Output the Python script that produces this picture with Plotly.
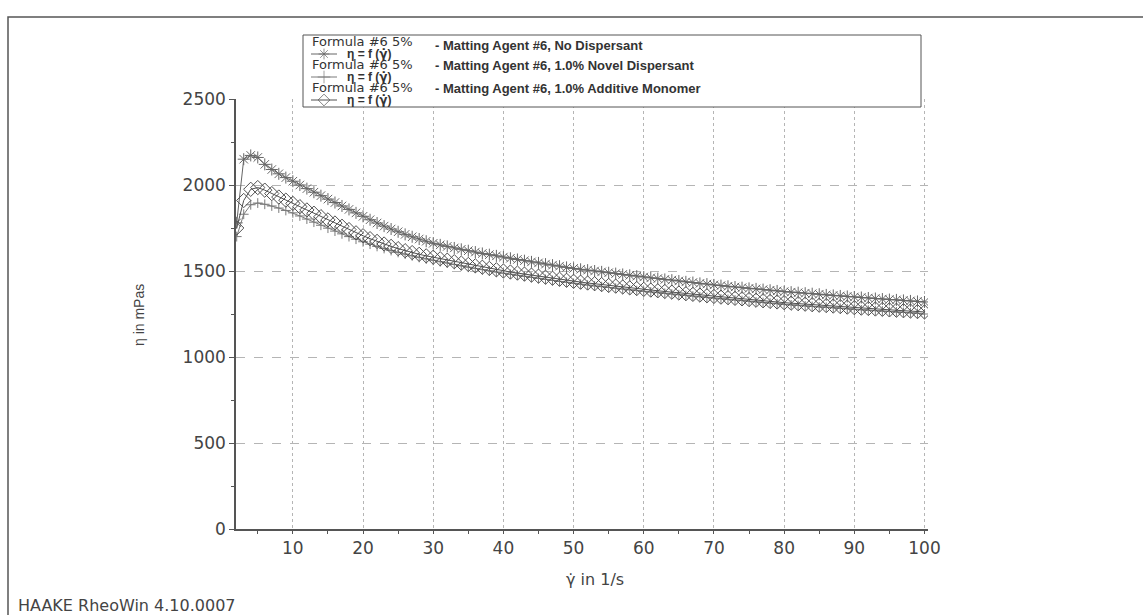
import plotly.graph_objects as go

W, H = 1143, 615

shear_rate = list(range(2, 101))

visc_no_dispersant = [
    1780, 2150, 2172, 2160, 2120, 2090, 2065, 2043, 2022,
    2000, 1979, 1958, 1938, 1918, 1898, 1878, 1858, 1838, 1818,
    1798, 1779, 1761, 1744, 1728, 1713, 1699, 1686, 1673, 1661,
    1652, 1643, 1634, 1626, 1618, 1610, 1602, 1595, 1588, 1581,
    1574, 1567, 1560, 1553, 1547, 1540, 1534, 1528, 1521, 1515,
    1510, 1505, 1500, 1495, 1490, 1485, 1480, 1475, 1470, 1465,
    1460, 1456, 1451, 1447, 1442, 1437, 1433, 1428, 1424, 1419,
    1415, 1411, 1407, 1403, 1399, 1396, 1392, 1388, 1384, 1380,
    1377, 1374, 1371, 1368, 1365, 1361, 1358, 1355, 1352, 1349,
    1346, 1343, 1340, 1337, 1334, 1332, 1329, 1326, 1323, 1320,
]

visc_novel_dispersant = [
    1700, 1830, 1885, 1895, 1888, 1878, 1866, 1852, 1838,
    1820, 1802, 1784, 1766, 1749, 1732, 1716, 1700, 1685, 1670,
    1656, 1643, 1631, 1619, 1608, 1598, 1588, 1579, 1570, 1562,
    1554, 1546, 1538, 1530, 1522, 1515, 1508, 1501, 1494, 1487,
    1481, 1475, 1469, 1463, 1457, 1451, 1445, 1439, 1434, 1428,
    1423, 1418, 1413, 1409, 1404, 1400, 1395, 1390, 1386, 1382,
    1378, 1374, 1370, 1366, 1362, 1358, 1354, 1350, 1346, 1342,
    1338, 1335, 1331, 1328, 1324, 1320, 1317, 1313, 1310, 1306,
    1303, 1300, 1297, 1294, 1291, 1289, 1286, 1283, 1280, 1277,
    1274, 1272, 1269, 1267, 1264, 1262, 1259, 1257, 1254, 1250,
]

visc_additive_monomer = [
    1750, 1910, 1975, 1985, 1970, 1950, 1930, 1912, 1893,
    1874, 1855, 1836, 1816, 1797, 1779, 1760, 1741, 1722, 1705,
    1688, 1672, 1657, 1643, 1630, 1618, 1607, 1597, 1588, 1580,
    1571, 1563, 1554, 1546, 1538, 1530, 1522, 1515, 1507, 1500,
    1494, 1488, 1482, 1476, 1470, 1464, 1458, 1452, 1446, 1440,
    1435, 1430, 1426, 1421, 1416, 1412, 1407, 1402, 1398, 1393,
    1389, 1385, 1381, 1377, 1372, 1368, 1364, 1360, 1356, 1352,
    1348, 1345, 1341, 1338, 1334, 1330, 1327, 1323, 1320, 1316,
    1313, 1310, 1307, 1304, 1301, 1299, 1296, 1293, 1290, 1287,
    1284, 1282, 1279, 1277, 1274, 1272, 1269, 1267, 1264, 1262,
]

x_ticks = [10, 20, 30, 40, 50, 60, 70, 80, 90, 100]
y_ticks = [0, 500, 1000, 1500, 2000, 2500]

legend_formula = ["Formula #6 5%", "Formula #6 5%", "Formula #6 5%"]
legend_desc = [
    "- Matting Agent #6, No Dispersant",
    "- Matting Agent #6, 1.0% Novel Dispersant",
    "- Matting Agent #6, 1.0% Additive Monomer",
]
GDOT = '<span style="font-family:DejaVu Sans">γ\u0307</span>'
legend_func = "η = f (" + GDOT + ")"

FONT = "Liberation Sans, Arial, sans-serif"
WIDE = "DejaVu Sans, sans-serif"
series = [
    (visc_no_dispersant, "asterisk-open", 10, "#666666"),
    (visc_novel_dispersant, "cross-thin-open", 7, "#7a7a7a"),
    (visc_additive_monomer, "diamond-open", 11, "#505050"),
]

fig = go.Figure()
for vals, sym, sz, col in series:
    fig.add_trace(go.Scatter(
        x=shear_rate, y=vals, mode="lines+markers",
        line=dict(color=col, width=1),
        marker=dict(symbol=sym, size=sz, color=col, line=dict(color=col, width=1)),
        showlegend=False, xaxis="x", yaxis="y",
    ))

# plot area in pixel terms
x0p, x1p, y0p, y1p = 236, 928, 99, 529

# legend box
fig.add_shape(type="rect", xref="x2", yref="y2", x0=303, x1=921, y0=35, y1=107,
              line=dict(color="#555", width=1), fillcolor="white", layer="below")

row_y = [41, 64, 87]
for i in range(3):
    ly = row_y[i]
    fig.add_annotation(xref="x2", yref="y2", x=310, y=ly, text=legend_formula[i],
                       showarrow=False, xanchor="left", yanchor="middle",
                       font=dict(family=WIDE, size=13, color="#333"))
    fig.add_annotation(xref="x2", yref="y2", x=433, y=ly + 4 if i == 0 else ly + 1,
                       text="<b>" + legend_desc[i] + "</b>",
                       showarrow=False, xanchor="left", yanchor="middle",
                       font=dict(family=FONT, size=13, color="#333"))
    fig.add_annotation(xref="x2", yref="y2", x=345, y=ly + 13, text="<b>" + legend_func + "</b>",
                       showarrow=False, xanchor="left", yanchor="middle",
                       font=dict(family=FONT, size=12, color="#333"))
    vals, sym, sz, col = series[i]
    fig.add_trace(go.Scatter(
        x=[311, 324, 337], y=[ly + 13] * 3, mode="lines+markers",
        line=dict(color=col, width=1),
        marker=dict(symbol=sym, size=[0, 9, 0], color=col, line=dict(color=col, width=1)),
        showlegend=False, xaxis="x2", yaxis="y2", hoverinfo="skip", cliponaxis=False,
    ))

# outer frame (left and top edges visible)
fig.add_shape(type="rect", xref="x2", yref="y2", x0=8, x1=1160, y0=17, y1=640,
              line=dict(color="#555", width=1.5), layer="below")

# axis titles
fig.add_annotation(xref="x2", yref="y2", x=139, y=315, text="η in mPas", textangle=-90,
                   showarrow=False, font=dict(family=FONT, size=14, color="#444"))
fig.add_annotation(xref="x2", yref="y2", x=595, y=579, text=GDOT + " in 1/s",
                   showarrow=False, font=dict(family=WIDE, size=16, color="#444"))
fig.add_annotation(xref="x2", yref="y2", x=16, y=605, text="HAAKE RheoWin 4.10.0007",
                   showarrow=False, xanchor="left", font=dict(family=WIDE, size=16, color="#444"))

tickfont = dict(family=WIDE, size=17, color="#444")
fig.update_layout(
    width=W, height=H, margin=dict(l=0, r=0, t=0, b=0),
    paper_bgcolor="white", plot_bgcolor="rgba(0,0,0,0)", showlegend=False,
    xaxis=dict(domain=[x0p / W, x1p / W], range=[1.9, 100.5], tickvals=x_ticks,
               showgrid=True, gridcolor="#b5b5b5", griddash="dot", gridwidth=1,
               showline=True, linecolor="#555", linewidth=1.5, ticks="outside", ticklen=3,
               tickcolor="#555", zeroline=False, automargin=False, tickfont=tickfont,
               minor=dict(tickvals=[5, 15, 25, 35, 45, 55, 65, 75, 85, 95], ticks="outside",
                          ticklen=3, tickcolor="#555", showgrid=False)),
    yaxis=dict(domain=[(H - y1p) / H, (H - y0p) / H], range=[0, 2500], tickvals=y_ticks,
               showgrid=True, gridcolor="#b5b5b5", griddash="dash", gridwidth=1,
               showline=True, linecolor="#555", linewidth=1.5, ticks="outside", ticklen=5,
               tickcolor="#555", zeroline=False, automargin=False, tickfont=tickfont,
               minor=dict(tickvals=[250, 750, 1250, 1750, 2250], ticks="outside",
                          ticklen=3, tickcolor="#555", showgrid=False)),
    xaxis2=dict(domain=[0, 1], range=[0, W], visible=False, fixedrange=True, anchor="y2"),
    yaxis2=dict(domain=[0, 1], range=[H, 0], visible=False, fixedrange=True, anchor="x2"),
)

fig.write_html("out.html", config={"displayModeBar": False},
               post_script="document.body.style.margin='0';")
